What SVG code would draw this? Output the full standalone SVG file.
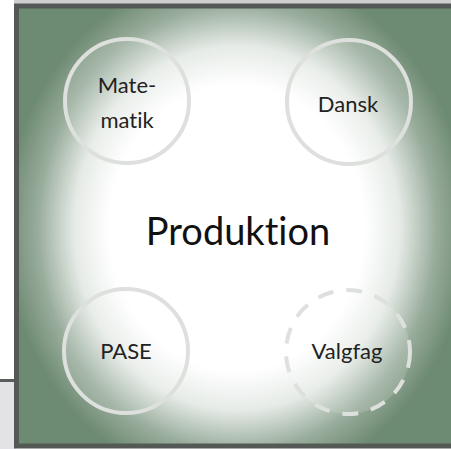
<svg xmlns="http://www.w3.org/2000/svg" width="451" height="449" viewBox="0 0 451 449">
  <defs>
    <radialGradient id="bg" gradientUnits="userSpaceOnUse" cx="237" cy="228" r="232" gradientTransform="translate(237 228) scale(1 1.12) translate(-237 -228)">
      <stop offset="0" stop-color="#ffffff"/>
      <stop offset="0.55" stop-color="#ffffff"/>
      <stop offset="0.7" stop-color="#e6ebe7"/>
      <stop offset="0.86" stop-color="#98ac9b"/>
      <stop offset="1" stop-color="#6d8a72"/>
    </radialGradient>
    <style>
      .ring { fill: #ffffff; fill-opacity: 0.15; stroke: #dde0dc; stroke-width: 4; }
      .dash { stroke-dasharray: 16 13; }
      .lbl { font-family: Lato, "Open Sans", "Liberation Sans", sans-serif; font-size: 22px; fill: #222222; text-anchor: middle; font-variant-ligatures: none; }
      .big { font-family: Lato, "Open Sans", "Liberation Sans", sans-serif; font-size: 38px; fill: #111111; text-anchor: middle; font-variant-ligatures: none; }
    </style>
  </defs>
  <rect x="0" y="0" width="451" height="449" fill="#ffffff"/>
  <rect x="0" y="382" width="16" height="67" fill="#e3e3e7"/>
  <rect x="0" y="379" width="16" height="3" fill="#5a5d5b"/>
  <rect x="14" y="0" width="437" height="4" fill="#cfcfcf"/>
  <rect x="16.5" y="6" width="440" height="440" fill="url(#bg)" stroke="#555956" stroke-width="5"/>
  <text class="big" x="238" y="245">Produktion</text>
  <g id="matematik">
    <circle class="ring" cx="127" cy="101" r="62"/>
    <text class="lbl" x="127" y="93">Mate-</text>
    <text class="lbl" x="127" y="128">matik</text>
  </g>
  <g id="dansk">
    <circle class="ring" cx="349" cy="102" r="62"/>
    <text class="lbl" x="348" y="112">Dansk</text>
  </g>
  <g id="pase">
    <circle class="ring" cx="126" cy="351" r="62"/>
    <text class="lbl" x="126" y="359">PASE</text>
  </g>
  <g id="valgfag">
    <circle class="ring dash" cx="348" cy="352" r="62"/>
    <text class="lbl" x="347" y="359">Valgfag</text>
  </g>
  <g id="connectors"/>
</svg>
